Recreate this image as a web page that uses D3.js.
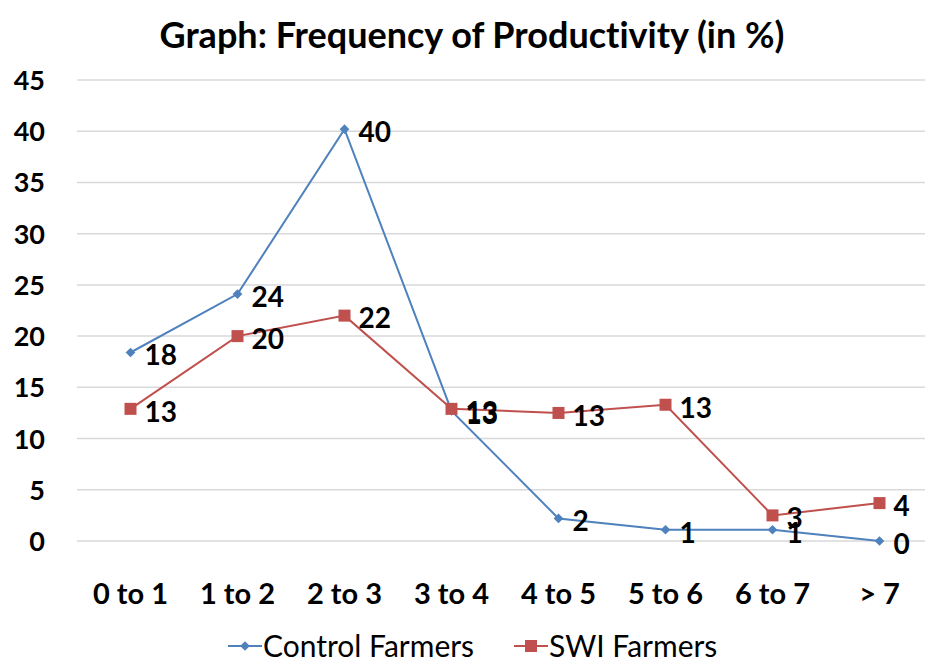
<!DOCTYPE html>
<html>
<head>
<meta charset="utf-8">
<script src="https://cdn.jsdelivr.net/npm/d3@7/dist/d3.min.js"></script>
<style>
  html, body { margin: 0; padding: 0; background: #fff; }
  svg { display: block; }
  text { font-variant-ligatures: none; }
</style>
</head>
<body>
<svg id="chart" width="925" height="667"></svg>
<script>
const categories = ["0 to 1", "1 to 2", "2 to 3", "3 to 4", "4 to 5", "5 to 6", "6 to 7", "> 7"];
const controlValues = [18.4, 24.1, 40.2, 12.7, 2.2, 1.1, 1.1, 0];
const swiValues = [12.9, 20.0, 22.0, 12.9, 12.5, 13.3, 2.5, 3.7];
const yTicks = [0, 5, 10, 15, 20, 25, 30, 35, 40, 45];
const seriesNames = ["Control Farmers", "SWI Farmers"];
const titleText = "Graph: Frequency of Productivity (in %)";

const svg = d3.select("#chart");
const font = "Lato, 'Open Sans', sans-serif";
const blue = "#4F81BD", red = "#C0504D";

const margin = { left: 77, right: -8, top: 80, bottom: 126 };
const W = 925, H = 667;

const x = d3.scaleBand().domain(categories).range([margin.left, W - margin.right]);
const y = d3.scaleLinear().domain([0, 45]).range([541, 80]);

// gridlines
const grid = svg.append("g");
grid.selectAll("line").data(yTicks).join("line")
  .attr("x1", margin.left).attr("x2", W)
  .attr("y1", d => y(d)).attr("y2", d => y(d))
  .attr("stroke", "#d9d9d9").attr("stroke-width", 1.5);

// y axis
const yAxis = d3.axisLeft(y).tickValues(yTicks).tickSize(0).tickPadding(0);
const yg = svg.append("g").attr("transform", `translate(45,0)`).call(yAxis);
yg.select(".domain").remove();
yg.selectAll("text").attr("font-family", font).attr("font-weight", "bold")
  .attr("font-size", 27).attr("fill", "#000").attr("dy", "0.35em");

// x axis
const xAxis = d3.axisBottom(x).tickSize(0).tickPadding(0);
const xg = svg.append("g").attr("transform", `translate(0,594)`).call(xAxis);
xg.select(".domain").remove();
xg.selectAll("text").attr("font-family", font).attr("font-weight", "bold")
  .attr("font-size", 29).attr("fill", "#000").attr("dy", "0.35em");

const cx = c => x(c) + x.bandwidth() / 2;

const series = [
  { name: seriesNames[0], values: controlValues, color: blue, shape: "diamond" },
  { name: seriesNames[1], values: swiValues, color: red, shape: "square" }
];

const line = d3.line().x(d => cx(d.c)).y(d => y(d.v));

series.forEach(s => {
  const pts = categories.map((c, i) => ({ c, v: s.values[i] }));
  svg.append("path").datum(pts).attr("d", line)
    .attr("fill", "none").attr("stroke", s.color).attr("stroke-width", 2);
});

function marker(g, shape, color, px, py) {
  if (shape === "diamond") {
    g.append("path").attr("d", d3.symbol(d3.symbolDiamond2, 60)())
      .attr("transform", `translate(${px},${py})`).attr("fill", color);
  } else {
    g.append("rect").attr("x", px - 6).attr("y", py - 6).attr("width", 12).attr("height", 12)
      .attr("fill", color);
  }
}

series.forEach(s => {
  const g = svg.append("g");
  categories.forEach((c, i) => marker(g, s.shape, s.color, cx(c), y(s.values[i])));
});

// data labels
series.forEach(s => {
  svg.append("g").selectAll("text").data(categories).join("text")
    .attr("x", c => cx(c) + 14)
    .attr("y", (c, i) => y(s.values[i]) + 3)
    .attr("dy", "0.35em")
    .attr("font-family", font).attr("font-weight", "bold").attr("font-size", 28)
    .attr("fill", "#000")
    .text((c, i) => Math.round(s.values[i]));
});

// title
svg.append("text").attr("x", 472).attr("y", 35).attr("dy", "0.35em")
  .attr("text-anchor", "middle").attr("font-family", font).attr("font-weight", "bold")
  .attr("font-size", 36).attr("fill", "#000").text(titleText);

// legend
const legendY = 646;
const legend = svg.append("g");
const legendItems = [
  { s: series[0], x0: 228 },
  { s: series[1], x0: 514 }
];
legendItems.forEach(({ s, x0 }) => {
  legend.append("line").attr("x1", x0).attr("x2", x0 + 34).attr("y1", legendY).attr("y2", legendY)
    .attr("stroke", s.color).attr("stroke-width", 2);
  marker(legend, s.shape, s.color, x0 + 17, legendY);
  legend.append("text").attr("x", x0 + 35).attr("y", legendY).attr("dy", "0.35em")
    .attr("font-family", font).attr("font-size", 30).attr("fill", "#000").text(s.name);
});
</script>
</body>
</html>
